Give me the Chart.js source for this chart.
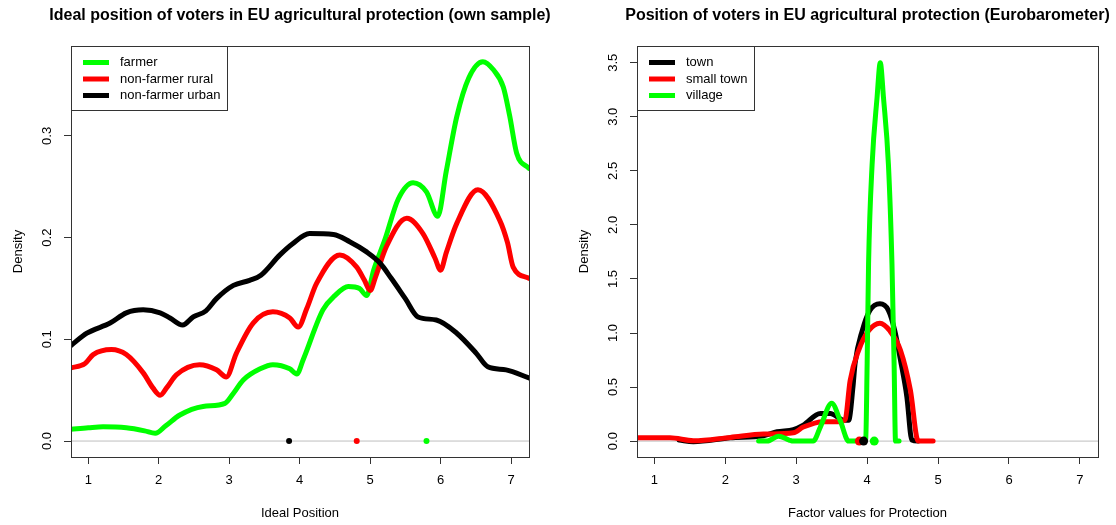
<!DOCTYPE html>
<html>
<head>
<meta charset="utf-8">
<script src="https://cdn.jsdelivr.net/npm/chart.js@4.4.1/dist/chart.umd.min.js"></script>
<style>
  html, body { margin: 0; padding: 0; background: #fff; }
  #wrap { position: relative; width: 1116px; height: 525px; }
  .panel { position: absolute; top: 0; width: 558px; height: 525px; }
</style>
</head>
<body>
<div id="wrap">
  <div class="panel" style="left:0"><canvas id="ownChart" width="558" height="525"></canvas></div>
  <div class="panel" style="left:558px"><canvas id="ebChart" width="558" height="525"></canvas></div>
</div>
<script>
// ========== DATA ==========
const X_MIN = 0.755;
const X_MAX = 7.255;
const xTicks = [1, 2, 3, 4, 5, 6, 7];

// --- left panel: own sample ---
const ownLabels = ["farmer", "non-farmer rural", "non-farmer urban"];
const ownColors = ["#00ff00", "#ff0000", "#000000"];

const farmerX = [0.755, 1.0, 1.21, 1.54, 1.8, 1.95, 2.1, 2.3, 2.63, 2.94, 3.05, 3.2, 3.44, 3.62, 3.86, 3.96,
  4.05, 4.33, 4.5, 4.69, 4.85, 4.95, 5.05, 5.21, 5.4, 5.61, 5.8, 5.96, 6.08, 6.23, 6.4, 6.6, 6.75, 6.89, 6.98, 7.08, 7.255];
const farmerY = [0.0115, 0.013, 0.014, 0.013, 0.010, 0.0076, 0.015, 0.0256, 0.034, 0.037, 0.046, 0.06, 0.071, 0.075, 0.071, 0.066,
  0.08, 0.129, 0.143, 0.152, 0.15, 0.143, 0.168, 0.198, 0.238, 0.254, 0.245, 0.221, 0.265, 0.319, 0.357, 0.373, 0.365, 0.348, 0.32, 0.283, 0.268];

const ruralX = [0.755, 0.95, 1.07, 1.33, 1.54, 1.78, 1.92, 2.02, 2.12, 2.25, 2.58, 2.82, 2.96, 3.10, 3.34, 3.62, 3.86, 3.98,
  4.1, 4.24, 4.57, 4.81, 4.92, 5.0, 5.08, 5.23, 5.52, 5.75, 5.92, 6.0, 6.08, 6.23, 6.53, 6.84, 6.95, 7.03, 7.255];
const ruralY = [0.072, 0.076, 0.085, 0.090, 0.085, 0.067, 0.052, 0.045, 0.053, 0.065, 0.075, 0.070, 0.063, 0.086, 0.116, 0.127, 0.121, 0.112,
  0.13, 0.155, 0.183, 0.171, 0.158, 0.148, 0.162, 0.191, 0.219, 0.204, 0.180, 0.168, 0.185, 0.214, 0.247, 0.217, 0.195, 0.171, 0.160];

const urbanX = [0.755, 0.98, 1.31, 1.54, 1.78, 2.02, 2.16, 2.34, 2.49, 2.67, 2.82, 3.06, 3.29, 3.45, 3.72, 3.9, 4.14, 4.48,
  4.71, 4.95, 5.14, 5.3, 5.5, 5.68, 5.94, 6.23, 6.51, 6.67, 6.93, 7.255];
const urbanY = [0.094, 0.106, 0.116, 0.126, 0.129, 0.126, 0.121, 0.114, 0.122, 0.128, 0.140, 0.153, 0.158, 0.163, 0.183, 0.194, 0.204, 0.203,
  0.196, 0.186, 0.175, 0.160, 0.140, 0.122, 0.119, 0.106, 0.086, 0.073, 0.070, 0.062];

const ownMeans = [5.80, 4.81, 3.85]; // farmer, rural, urban
const ownYTicks = [0, 0.1, 0.2, 0.3];

// --- right panel: Eurobarometer ---
const ebLabels = ["town", "small town", "village"];
const ebColors = ["#000000", "#ff0000", "#00ff00"];

const townX = [1.35, 1.55, 2.07, 2.54, 2.73, 2.96, 3.10, 3.34, 3.48, 3.67, 3.74, 3.80, 3.83, 3.93, 4.04, 4.18, 4.30, 4.39, 4.47, 4.56, 4.63, 4.72];
const townY = [0.01, -0.006, 0.03, 0.05, 0.086, 0.107, 0.148, 0.255, 0.255, 0.194, 0.194, 0.5, 0.72, 1.02, 1.21, 1.27, 1.21, 1.02, 0.75, 0.41, 0.01, 0.0];

const smallTownX = [0.755, 1.22, 1.55, 2.07, 2.54, 2.96, 3.10, 3.38, 3.62, 3.69, 3.76, 3.88, 4.02, 4.18, 4.32, 4.47, 4.61, 4.72, 4.93];
const smallTownY = [0.03, 0.03, 0.003, 0.034, 0.065, 0.077, 0.13, 0.18, 0.18, 0.2, 0.56, 0.84, 1.02, 1.09, 1.02, 0.84, 0.47, 0.0, 0.0];

const villageX = [2.47, 2.59, 2.75, 2.90, 2.96, 3.24, 3.34, 3.50, 3.62, 3.74, 3.95, 3.98, 4.00, 4.02, 4.07, 4.14, 4.185, 4.23, 4.30, 4.35, 4.38, 4.40, 4.45];
const villageY = [0, 0, 0.046, 0.01, 0, 0, 0.13, 0.35, 0.19, 0, 0, 0.02, 0.72, 1.64, 2.56, 3.18, 3.5, 3.18, 2.56, 1.64, 0.72, 0, 0];

const ebMeans = [3.95, 3.89, 4.10]; // town, small town, village
const ebYTicks = [0, 0.5, 1, 1.5, 2, 2.5, 3, 3.5];

// ========== HELPERS ==========
const FONT = "'Liberation Sans', Arial, sans-serif";

function curve(label, xs, ys, color, order) {
    return {
        type: "line",
        label: label,
        data: xs.map((x, i) => ({ x: x, y: ys[i] })),
        borderColor: color,
        borderWidth: 5,
        borderCapStyle: "round",
        borderJoinStyle: "round",
        pointRadius: 0,
        fill: false,
        cubicInterpolationMode: "monotone",
        order: order
    };
}

function meanDot(x, color, radius, order) {
    return {
        type: "scatter",
        data: [{ x: x, y: 0 }],
        backgroundColor: color,
        borderWidth: 0,
        pointRadius: radius,
        order: order
    };
}

function zeroLine() {
    return {
        type: "line",
        data: [{ x: X_MIN, y: 0 }, { x: X_MAX, y: 0 }],
        borderColor: "#bebebe",
        borderWidth: 1,
        pointRadius: 0,
        order: 99
    };
}

// draws R-like box, titles, rotated y labels and legend
const rStyle = {
    id: "rStyle",
    afterDraw(chart, args, opts) {
        const ctx = chart.ctx;
        const a = chart.chartArea;
        const yScale = chart.scales.y;
        const cx = (a.left + a.right) / 2;
        const cy = (a.top + a.bottom) / 2;
        ctx.save();

        // plot box
        ctx.strokeStyle = "#333";
        ctx.lineWidth = 1;
        ctx.strokeRect(Math.round(a.left) + 0.5, Math.round(a.top) + 0.5,
            Math.round(a.right - a.left), Math.round(a.bottom - a.top));

        // main title
        ctx.fillStyle = "#000";
        ctx.textAlign = "center";
        ctx.textBaseline = "middle";
        ctx.font = "bold 16px " + FONT;
        ctx.fillText(opts.title, cx, 16);

        // x axis title
        ctx.font = "13px " + FONT;
        ctx.fillText(opts.xTitle, cx, 513);

        // y axis title and tick labels (rotated like R)
        ctx.save();
        ctx.translate(a.left - 53, cy);
        ctx.rotate(-Math.PI / 2);
        ctx.fillText(opts.yTitle, 0, 0);
        ctx.restore();

        opts.yTicks.forEach(v => {
            const py = yScale.getPixelForValue(v);
            ctx.save();
            ctx.translate(a.left - 24, py);
            ctx.rotate(-Math.PI / 2);
            ctx.fillText(v.toFixed(1), 0, 0);
            ctx.restore();
        });

        // legend
        ctx.font = "13px " + FONT;
        const widest = Math.max(...opts.legend.map(l => ctx.measureText(l.label).width));
        const bx = Math.round(a.left) + 0.5;
        const by = Math.round(a.top) + 0.5;
        const bw = Math.round(49 + widest + 7);
        const bh = 64;
        ctx.fillStyle = "#fff";
        ctx.fillRect(bx, by, bw, bh);
        ctx.strokeStyle = "#333";
        ctx.strokeRect(bx, by, bw, bh);
        ctx.textAlign = "left";
        opts.legend.forEach((l, i) => {
            const ly = a.top + 16.5 + i * 16.5;
            ctx.strokeStyle = l.color;
            ctx.lineWidth = 5;
            ctx.beginPath();
            ctx.moveTo(a.left + 12, ly);
            ctx.lineTo(a.left + 38, ly);
            ctx.stroke();
            ctx.fillStyle = "#000";
            ctx.fillText(l.label, a.left + 49, ly);
        });
        ctx.restore();
    }
};

function makeChart(canvasId, datasets, yMin, yMax, yTicks, leftW, rightPad, deco) {
    const ctx = document.getElementById(canvasId).getContext("2d");
    return new Chart(ctx, {
        data: { datasets: datasets },
        options: {
            responsive: false,
            devicePixelRatio: 1,
            animation: false,
            layout: { padding: { top: 46, right: rightPad, left: 0, bottom: 0 } },
            scales: {
                x: {
                    type: "linear",
                    min: X_MIN,
                    max: X_MAX,
                    afterBuildTicks: s => { s.ticks = xTicks.map(v => ({ value: v })); },
                    afterFit: s => { s.height = 68; },
                    ticks: { color: "#000", font: { family: FONT, size: 13 }, padding: 9, maxRotation: 0 },
                    grid: { drawOnChartArea: false, drawTicks: true, tickLength: 7, color: "#333" },
                    border: { display: false }
                },
                y: {
                    type: "linear",
                    min: yMin,
                    max: yMax,
                    afterBuildTicks: s => { s.ticks = yTicks.map(v => ({ value: v })); },
                    afterFit: s => { s.width = leftW; },
                    ticks: { display: false },
                    grid: { drawOnChartArea: false, drawTicks: true, tickLength: 7, color: "#333" },
                    border: { display: false }
                }
            },
            plugins: {
                legend: { display: false },
                tooltip: { enabled: false },
                rStyle: deco
            }
        },
        plugins: [rStyle]
    });
}

// ========== CHARTS ==========
const ownChart = makeChart("ownChart", [
    curve(ownLabels[2], urbanX, urbanY, ownColors[2], 1),
    curve(ownLabels[1], ruralX, ruralY, ownColors[1], 2),
    curve(ownLabels[0], farmerX, farmerY, ownColors[0], 3),
    meanDot(ownMeans[0], ownColors[0], 3, 0),
    meanDot(ownMeans[1], ownColors[1], 3, 0),
    meanDot(ownMeans[2], ownColors[2], 3, 0),
    zeroLine()
], -0.0157, 0.3884, ownYTicks, 71, 29, {
    title: "Ideal position of voters in EU agricultural protection (own sample)",
    xTitle: "Ideal Position",
    yTitle: "Density",
    yTicks: ownYTicks,
    legend: ownLabels.map((l, i) => ({ label: l, color: ownColors[i] }))
});

const ebChart = makeChart("ebChart", [
    curve(ebLabels[2], villageX, villageY, ebColors[2], 1),
    curve(ebLabels[1], smallTownX, smallTownY, ebColors[1], 2),
    curve(ebLabels[0], townX, townY, ebColors[0], 3),
    meanDot(ebMeans[0], ebColors[0], 4.5, 0),
    meanDot(ebMeans[2], ebColors[2], 4.5, 0),
    meanDot(ebMeans[1], ebColors[1], 4.5, 0),
    zeroLine()
], -0.147, 3.655, ebYTicks, 79, 18, {
    title: "Position of voters in EU agricultural protection (Eurobarometer)",
    xTitle: "Factor values for Protection",
    yTitle: "Density",
    yTicks: ebYTicks,
    legend: ebLabels.map((l, i) => ({ label: l, color: ebColors[i] }))
});
</script>
</body>
</html>
